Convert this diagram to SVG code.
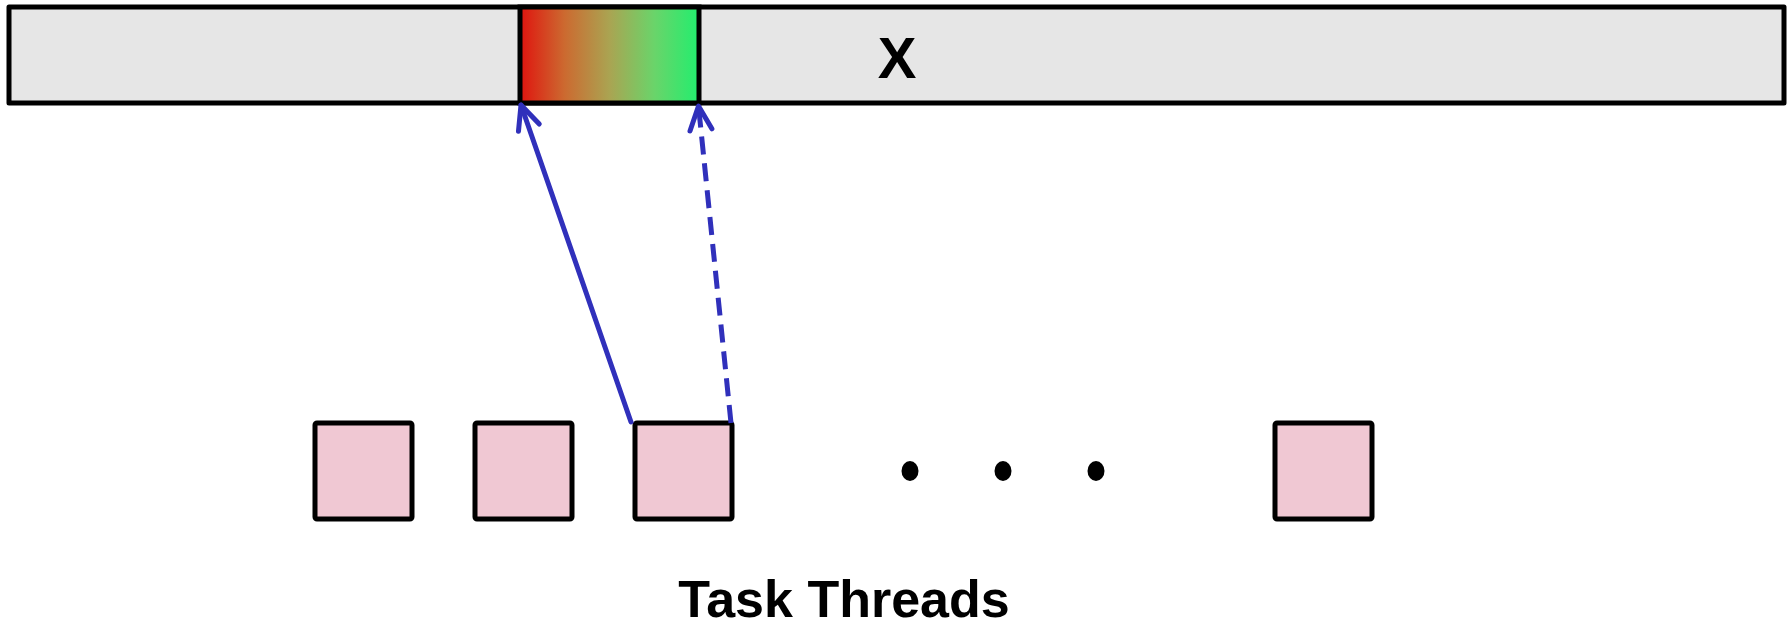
<svg xmlns="http://www.w3.org/2000/svg" width="1791" height="625" viewBox="0 0 1791 625">
<style>
.bar{fill:#e6e6e6;stroke:#000;stroke-width:5;stroke-linejoin:round}
.task{fill:#f0c8d3;stroke:#000;stroke-width:5;stroke-linejoin:round}
.conn{fill:none;stroke:#3030bb;stroke-width:5;stroke-linecap:round}
.dash{stroke-dasharray:18 9;stroke-linecap:butt}
.lbl{font-family:"Liberation Sans",Arial,sans-serif;font-weight:bold;fill:#000;text-anchor:middle}
</style>
<defs>
<linearGradient id="grad" x1="0" y1="0" x2="1" y2="0">
<stop offset="0" stop-color="#e0140f"/>
<stop offset="0.25" stop-color="#cc6a30"/>
<stop offset="0.5" stop-color="#aaa452"/>
<stop offset="0.75" stop-color="#6ad46a"/>
<stop offset="1" stop-color="#22ee6e"/>
</linearGradient>
<marker id="arr" markerUnits="userSpaceOnUse" markerWidth="40" markerHeight="40" viewBox="-30 -20 40 40" refX="0" refY="0" orient="auto" overflow="visible">
<path d="M -24 -11 L 0 0 L -24 11" fill="none" stroke="#3030bb" stroke-width="5" stroke-linecap="round" stroke-linejoin="round"/>
</marker>
</defs>
<g id="array">
<rect class="bar" x="9" y="7" width="1775" height="96"/>
<rect x="520" y="7" width="179" height="96" fill="url(#grad)" stroke="#000" stroke-width="5"/>
<text class="lbl" x="897" y="78" font-size="58">X</text>
</g>
<g id="task1"><rect class="task" x="315" y="423" width="97" height="96" rx="2"/></g>
<g id="task2"><rect class="task" x="475" y="423" width="97" height="96" rx="2"/></g>
<g id="task3"><rect class="task" x="635" y="423" width="97" height="96" rx="2"/></g>
<g id="task4"><rect class="task" x="1275" y="423" width="97" height="96" rx="2"/></g>
<g id="ellipsis">
<ellipse cx="910" cy="471" rx="8.5" ry="10"/>
<ellipse cx="1003" cy="471" rx="8.5" ry="10"/>
<ellipse cx="1096" cy="471" rx="8.5" ry="10"/>
</g>
<g id="connectors">
<line class="conn" x1="631" y1="422" x2="521" y2="105" marker-end="url(#arr)"/>
<line class="conn dash" x1="731" y1="423" x2="698.5" y2="106" marker-end="url(#arr)"/>
</g>
<g id="caption">
<text class="lbl" x="844" y="617" font-size="52">Task Threads</text>
</g>
</svg>
